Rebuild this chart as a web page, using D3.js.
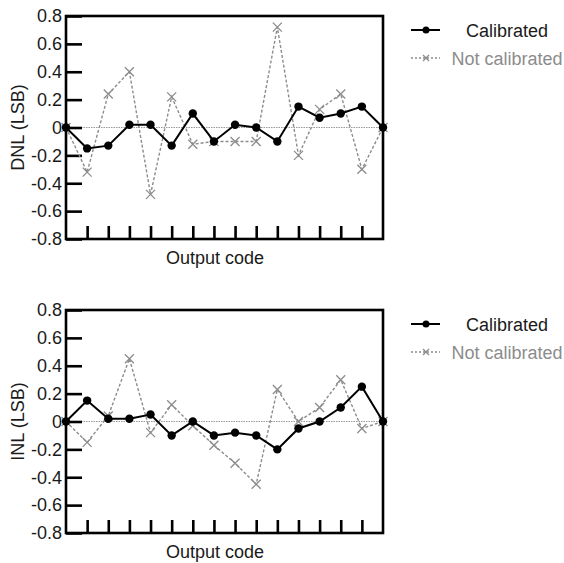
<!DOCTYPE html>
<html>
<head>
<meta charset="utf-8">
<script src="https://cdn.jsdelivr.net/npm/d3@7"></script>
<style>
  body { margin: 0; background: #fff; }
  text { font-family: "Liberation Sans", Arial, sans-serif; }
</style>
</head>
<body>
<div id="chart"></div>
<script>
// Output code index (0..15)
var codes = d3.range(0, 16);
var yTicks = [-0.8, -0.6, -0.4, -0.2, 0, 0.2, 0.4, 0.6, 0.8];
var xTicks = d3.range(1, 15);

// DNL values
var dnlCalibrated = [0, -0.15, -0.13, 0.02, 0.02, -0.13, 0.10, -0.10, 0.02, 0.0, -0.10, 0.15, 0.07, 0.10, 0.15, 0];
var dnlNotCalibrated = [0, -0.32, 0.24, 0.40, -0.48, 0.22, -0.12, -0.10, -0.10, -0.10, 0.72, -0.20, 0.13, 0.24, -0.30, 0];

// INL values
var inlCalibrated = [0, 0.15, 0.02, 0.02, 0.05, -0.10, 0.0, -0.10, -0.08, -0.10, -0.20, -0.05, 0.0, 0.10, 0.25, 0];
var inlNotCalibrated = [0, -0.15, 0.04, 0.45, -0.08, 0.12, -0.03, -0.17, -0.30, -0.45, 0.23, 0.0, 0.10, 0.30, -0.05, 0];

var seriesNames = ["Calibrated", "Not calibrated"];
var grey = "#8c8c8c";
var ink = "#1a1a1a";
var fontSize = 18;

var svgWidth = 564;
var svgHeight = 563;

var svg = d3.select("#chart")
  .append("svg")
  .attr("width", svgWidth)
  .attr("height", svgHeight);

var plot = { left: 66, right: 383, height: 223 };

function drawPanel(top, yTitle, calibrated, notCalibrated) {
  var g = svg.append("g").attr("transform", `translate(0, ${top})`);

  var x = d3.scaleLinear().domain([0, 15]).range([plot.left, plot.right]);
  var y = d3.scaleLinear().domain([-0.8, 0.8]).range([plot.height, 0]);

  // zero reference line
  g.append("line")
    .attr("x1", plot.left).attr("x2", plot.right)
    .attr("y1", y(0)).attr("y2", y(0))
    .attr("stroke", "#999")
    .attr("stroke-width", 1.2)
    .attr("stroke-dasharray", "1.5,1");

  // left axis with inward ticks
  var leftAxis = d3.axisLeft(y)
    .tickValues(yTicks)
    .tickSize(-16)
    .tickPadding(4)
    .tickFormat(d => d === 0 ? "0" : String(d));

  var ya = g.append("g")
    .attr("transform", `translate(${plot.left}, 0)`)
    .call(leftAxis);
  ya.select(".domain").remove();
  ya.selectAll("line").attr("stroke", "#000").attr("stroke-width", 2.6);
  ya.selectAll("text")
    .attr("font-size", fontSize)
    .attr("fill", ink)
    .attr("font-family", "'Liberation Sans', Arial, sans-serif");

  // bottom axis, inward ticks, no labels
  var bottomAxis = d3.axisBottom(x)
    .tickValues(xTicks)
    .tickSize(-13)
    .tickFormat("");

  var xa = g.append("g")
    .attr("transform", `translate(0, ${plot.height})`)
    .call(bottomAxis);
  xa.select(".domain").remove();
  xa.selectAll("line").attr("stroke", "#000").attr("stroke-width", 2.6);

  // frame
  g.append("rect")
    .attr("x", plot.left).attr("y", 0)
    .attr("width", plot.right - plot.left)
    .attr("height", plot.height)
    .attr("fill", "none")
    .attr("stroke", "#000")
    .attr("stroke-width", 2.6);

  var line = d3.line()
    .x((d, i) => x(codes[i]))
    .y(d => y(d));

  // not calibrated series
  g.append("path")
    .datum(notCalibrated)
    .attr("d", line)
    .attr("fill", "none")
    .attr("stroke", grey)
    .attr("stroke-width", 1.4)
    .attr("stroke-dasharray", "3,2");

  var s = 4.5;
  g.selectAll(".cross")
    .data(notCalibrated)
    .enter()
    .append("path")
    .attr("class", "cross")
    .attr("d", (d, i) => {
      var cx = x(codes[i]), cy = y(d);
      return `M${cx - s},${cy - s}L${cx + s},${cy + s}M${cx - s},${cy + s}L${cx + s},${cy - s}`;
    })
    .attr("stroke", grey)
    .attr("stroke-width", 1.3);

  // calibrated series
  g.append("path")
    .datum(calibrated)
    .attr("d", line)
    .attr("fill", "none")
    .attr("stroke", "#000")
    .attr("stroke-width", 2);

  g.selectAll(".dot")
    .data(calibrated)
    .enter()
    .append("circle")
    .attr("class", "dot")
    .attr("cx", (d, i) => x(codes[i]))
    .attr("cy", d => y(d))
    .attr("r", 4.2)
    .attr("fill", "#000");

  // axis titles
  g.append("text")
    .attr("transform", `translate(24, ${plot.height / 2}) rotate(-90)`)
    .attr("text-anchor", "middle")
    .attr("font-size", fontSize)
    .attr("fill", ink)
    .text(yTitle);

  g.append("text")
    .attr("x", 215)
    .attr("y", plot.height + 25)
    .attr("text-anchor", "middle")
    .attr("font-size", fontSize)
    .attr("fill", ink)
    .text("Output code");

  // legend
  var lg = g.append("g").attr("transform", "translate(0, 14)");
  lg.append("line")
    .attr("x1", 411).attr("x2", 440).attr("y1", 0).attr("y2", 0)
    .attr("stroke", "#000").attr("stroke-width", 2);
  lg.append("circle").attr("cx", 426).attr("cy", 0).attr("r", 3.5).attr("fill", "#000");
  lg.append("text")
    .attr("x", 507).attr("y", 6.5)
    .attr("text-anchor", "middle")
    .attr("font-size", fontSize)
    .attr("fill", ink)
    .text(seriesNames[0]);

  lg.append("line")
    .attr("x1", 411).attr("x2", 440).attr("y1", 28).attr("y2", 28)
    .attr("stroke", grey).attr("stroke-width", 1.4).attr("stroke-dasharray", "2,2");
  var ls = 3;
  lg.append("path")
    .attr("d", `M${426 - ls},${28 - ls}L${426 + ls},${28 + ls}M${426 - ls},${28 + ls}L${426 + ls},${28 - ls}`)
    .attr("stroke", grey).attr("stroke-width", 1.3);
  lg.append("text")
    .attr("x", 507).attr("y", 34.5)
    .attr("text-anchor", "middle")
    .attr("font-size", fontSize)
    .attr("fill", grey)
    .text(seriesNames[1]);
}

drawPanel(16, "DNL (LSB)", dnlCalibrated, dnlNotCalibrated);
drawPanel(310, "INL (LSB)", inlCalibrated, inlNotCalibrated);
</script>
</body>
</html>
